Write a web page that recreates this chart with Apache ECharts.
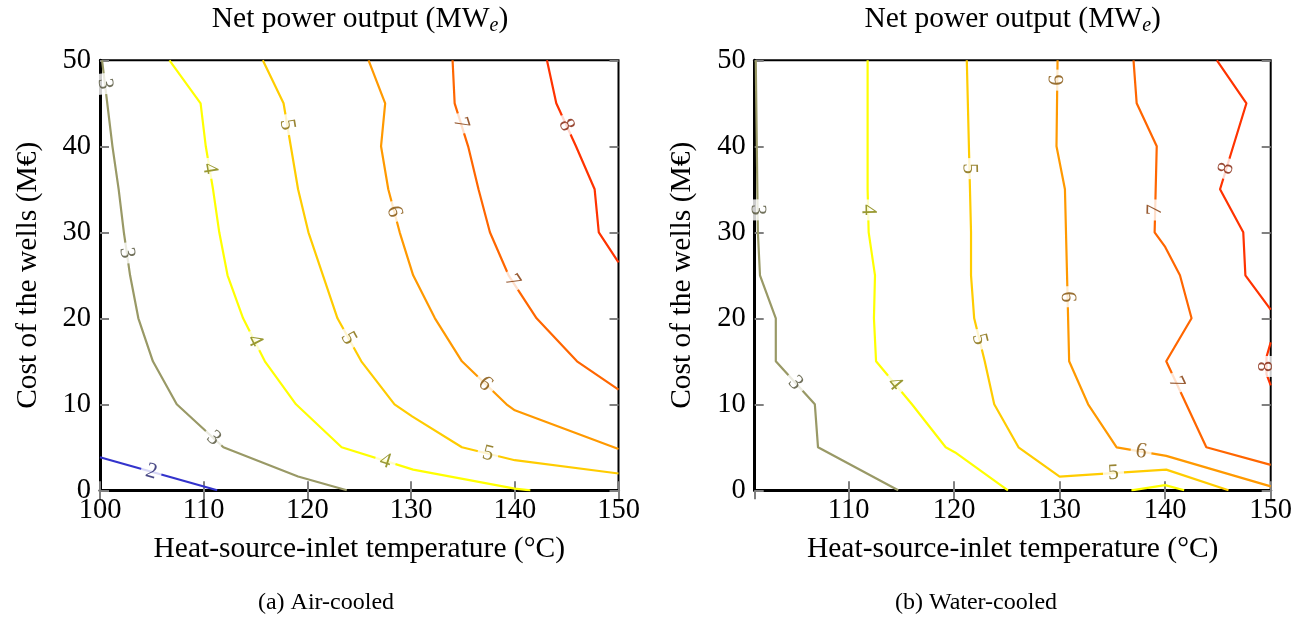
<!DOCTYPE html>
<html><head><meta charset="utf-8">
<script src="https://cdn.jsdelivr.net/npm/echarts@6/dist/echarts.min.js"></script>
<style>html,body{margin:0;padding:0;background:#fff}#c{width:1309px;height:619px}</style>
</head><body><div id="c"></div>
<script>
// ---- data: contour lines [temperature (°C), cost of wells (M€)] ----
const levels = [2, 3, 4, 5, 6, 7, 8];
const xTicks = [100, 110, 120, 130, 140, 150];
const yTicks = [0, 10, 20, 30, 40, 50];

// (a) Air-cooled
const air2 = [[100,3.85],[111.3,0]];
const air3 = [[100.2,50],[100.6,46],[101.2,40],[101.8,35],[102.3,30],[102.9,25],[103.7,20],[105.1,15],[107.4,10],[111.9,5],[119.1,1.6],[123.8,0]];
const air4 = [[106.7,50],[109.7,45],[110.2,40],[110.9,35],[111.5,30],[112.3,25],[113.8,20],[115.9,15],[118.9,10],[123.3,5],[130.2,2.4],[140,0.2],[141.5,0]];
const air5 = [[115.7,50],[117.7,45],[118.4,40],[119.1,35],[120.1,30],[121.5,25],[122.9,20],[125.2,15],[128.4,10],[130.1,8.6],[134.9,5],[140,3.5],[150,1.95]];
const air6 = [[125.9,50],[127.5,45],[127.1,40],[127.8,35],[128.9,30],[130.2,25],[132.3,20],[134.9,15],[139.2,10],[140,9.3],[150,4.8]];
const air7 = [[134.0,50],[134.2,45],[135.5,40],[136.5,35],[137.6,30],[139.4,25],[142.1,20],[146,15],[150,11.7]];
const air8 = [[143.1,50],[144,45],[145.9,40],[147.7,35],[148.1,30],[150,26.5]];
// labels [x, y, level]
const airLabels = [[100.6,47.3,3],[102.6,27.6,3],[110.8,5.85,3],[105,2.4,2],[110.4,37.4,4],[115.1,17.5,4],[127.5,3.3,4],
  [118,42.5,5],[124.3,17.9,5],[137.4,4.2,5],[128.3,32.4,6],[137,12.2,6],[134.9,42.7,7],[139.7,24.3,7],[145,42.5,8]];

// (b) Water-cooled
const water3 = [[101.2,50],[101.3,40],[101.4,30],[101.6,25],[103.1,20],[103.1,15],[106.8,10],[107.1,5],[114.7,0]];
const water4a = [[111.8,50],[111.8,40],[111.8,35],[111.9,30],[112.5,25],[112.4,20],[112.6,15],[116,10],[119.2,5],[120.1,4.4],[125.1,0]];
const water4b = [[136.8,0],[140,0.6],[141.8,0]];
const water5 = [[121.2,50],[121.4,40],[121.6,30],[121.6,25],[121.9,20],[122.9,15],[123.8,10],[126.1,5],[130,1.6],[135,2.0],[140.1,2.4],[146,0]];
const water6 = [[129.8,50],[129.7,40],[130.5,35],[130.7,25],[130.9,15],[132.7,10],[135.4,5],[140.1,4.0],[150,0.45]];
const water7 = [[137,50],[137.3,45],[139.2,40],[139.1,35],[139,30],[140,28.3],[141.4,25],[142.5,20],[140.1,15],[142,10],[143.9,5],[150,2.95]];
const water8a = [[144.9,50],[147.7,45],[145.2,35],[147.4,30],[147.6,25],[150,21]];
const water8b = [[150,17.2],[149.6,15.5],[149.6,13.5],[150,12.2]];
const waterLabels = [[101.6,32.6,3],[104.9,12.4,3],[111.8,32.6,4],[114.2,12.2,4],[121.5,37.4,5],[122.2,17.5,5],[135.1,2.0,5],
  [129.5,47.7,6],[130.8,22.5,6],[137.7,4.4,6],[139,32.6,7],[141.2,12.6,7],[145.8,37.4,8],[149.6,14.4,8]];

const airLines = [[2,air2],[3,air3],[4,air4],[5,air5],[6,air6],[7,air7],[8,air8]];
const waterLines = [[3,water3],[4,water4a],[4,water4b],[5,water5],[6,water6],[7,water7],[8,water8a],[8,water8b]];

// ---- styles ----
const FONT = 'Liberation Serif';
const lineColor = {2:'#3333cc',3:'#999966',4:'#ffff00',5:'#ffcc00',6:'#ff9900',7:'#ff6600',8:'#ff3300'};
const labelColor = {2:'#1a1a66',3:'#4d4d33',4:'#808000',5:'#806600',6:'#804c00',7:'#803300',8:'#801a00'};

const chart = echarts.init(document.getElementById('c'), null, {renderer:'canvas'});

const grids = [
  {left:100, top:60.3, width:518.5, height:430},
  {left:754.7, top:60.3, width:516, height:430}
];
const xRanges = [[100,150],[101.1,150]];

function axesFor(gi) {
  const tickStyle = {inside:true, length:9, lineStyle:{color:'#808080', width:2}};
  const xr = xRanges[gi];
  const exact = xr[0] % 10 === 0;
  const xb = {
    gridIndex:gi, type:'value', min:xr[0], max:xr[1], position:'bottom',
    axisLine:{show:true, onZero:false, lineStyle:{color:'#000', width:3}},
    axisTick:tickStyle, splitLine:{show:false},
    axisLabel:{fontFamily:FONT, fontSize:28.5, color:'#000', margin:6, showMinLabel: exact,
      formatter: v => (xTicks.indexOf(Math.round(v*1000)/1000) >= 0 ? String(v) : '')},
    name:'Heat-source-inlet temperature (°C)', nameLocation:'middle', nameGap:44,
    nameTextStyle:{fontFamily:FONT, fontSize:29.5, color:'#000'}
  };
  if (exact) xb.interval = 10; else xb.splitNumber = 5;
  const xt = Object.assign({}, xb, {position:'top', axisLine:{show:false}, axisLabel:{show:false}, name:''});
  const yl = {
    gridIndex:gi, type:'value', min:yTicks[0], max:yTicks[yTicks.length-1], interval:10, position:'left',
    axisLine:{show:true, onZero:false, lineStyle:{color:'#000', width:3}},
    axisTick:tickStyle, splitLine:{show:false},
    axisLabel:{fontFamily:FONT, fontSize:28.5, color:'#000', margin:9},
    name:'Cost of the wells (M€)', nameLocation:'middle', nameGap:57,
    nameTextStyle:{fontFamily:FONT, fontSize:29.5, color:'#000'}
  };
  const yr = Object.assign({}, yl, {position:'right', axisLine:{show:false}, axisLabel:{show:false}, name:''});
  return {x:[xb, xt], y:[yl, yr]};
}
const a0 = axesFor(0), a1 = axesFor(1);

function lineSeries(lines, gi) {
  return lines.map(([lvl, pts]) => ({
    type:'line', xAxisIndex:gi*2, yAxisIndex:gi*2, data:pts, symbol:'none', showSymbol:false,
    lineStyle:{color:lineColor[lvl], width:2.2}, clip:true, z:3, silent:true, animation:false
  }));
}

const titleRich = {
  a:{fontFamily:FONT, fontSize:29.5, color:'#000', lineHeight:34, verticalAlign:'middle'},
  s:{fontFamily:FONT, fontSize:20, fontStyle:'italic', color:'#000', lineHeight:14, verticalAlign:'bottom'}
};
const titleText = '{a|Net power output (MW}{s|e}{a|)}';

const baseSeries = lineSeries(airLines, 0).concat(lineSeries(waterLines, 1));

chart.setOption({
  animation:false,
  grid: grids.map(g => Object.assign({show:true, borderColor:'#000', borderWidth:2, backgroundColor:'transparent'}, g)),
  xAxis: [a0.x[0], a0.x[1], a1.x[0], a1.x[1]],
  yAxis: [a0.y[0], a0.y[1], a1.y[0], a1.y[1]],
  graphic: [
    {type:'text', x:360, y:19, silent:true, style:{text:titleText, rich:titleRich, textAlign:'center', textVerticalAlign:'middle'}},
    {type:'text', x:1012.7, y:19, silent:true, style:{text:titleText, rich:titleRich, textAlign:'center', textVerticalAlign:'middle'}},
    {type:'text', x:326, y:603, silent:true, style:{text:'(a) Air-cooled', font:'24px "Liberation Serif"', fill:'#000', textAlign:'center', textVerticalAlign:'middle'}},
    {type:'text', x:976, y:603, silent:true, style:{text:'(b) Water-cooled', font:'24px "Liberation Serif"', fill:'#000', textAlign:'center', textVerticalAlign:'middle'}}
  ],
  series: baseSeries
});

// labels are snapped onto their contour line and rotated along it
function buildLabels(labels, lines, gi) {
  const finder = {xAxisIndex:gi*2, yAxisIndex:gi*2};
  const data = labels.map(([x, y, lvl]) => {
    const p = chart.convertToPixel(finder, [x, y]);
    let best = null;
    lines.filter(l => l[0] === lvl).forEach(([, pts]) => {
      for (let i = 0; i < pts.length - 1; i++) {
        const a = chart.convertToPixel(finder, pts[i]);
        const b = chart.convertToPixel(finder, pts[i+1]);
        const dx = b[0]-a[0], dy = b[1]-a[1];
        const L2 = dx*dx + dy*dy;
        let t = L2 ? ((p[0]-a[0])*dx + (p[1]-a[1])*dy) / L2 : 0;
        t = Math.max(0, Math.min(1, t));
        const q = [a[0]+t*dx, a[1]+t*dy];
        const d = Math.hypot(p[0]-q[0], p[1]-q[1]);
        if (!best || d < best.d) best = {d, q, dx, dy};
      }
    });
    let ang = Math.atan2(-best.dy, best.dx) * 180 / Math.PI;
    if (ang > 90) ang -= 180;
    if (ang <= -90) ang += 180;
    const v = chart.convertFromPixel(finder, best.q);
    return {value:[v[0], v[1]], label:{rotate:ang, formatter:String(lvl), color:labelColor[lvl]}};
  });
  return {
    type:'scatter', xAxisIndex:gi*2, yAxisIndex:gi*2, data, symbolSize:1,
    itemStyle:{color:'rgba(0,0,0,0)'}, silent:true, animation:false, z:5,
    label:{show:true, position:'inside', fontFamily:FONT, fontSize:22, backgroundColor:'#fff', padding:[0,5], lineHeight:16}
  };
}

chart.setOption({series: baseSeries.concat([buildLabels(airLabels, airLines, 0), buildLabels(waterLabels, waterLines, 1)])});
</script>
</body></html>
